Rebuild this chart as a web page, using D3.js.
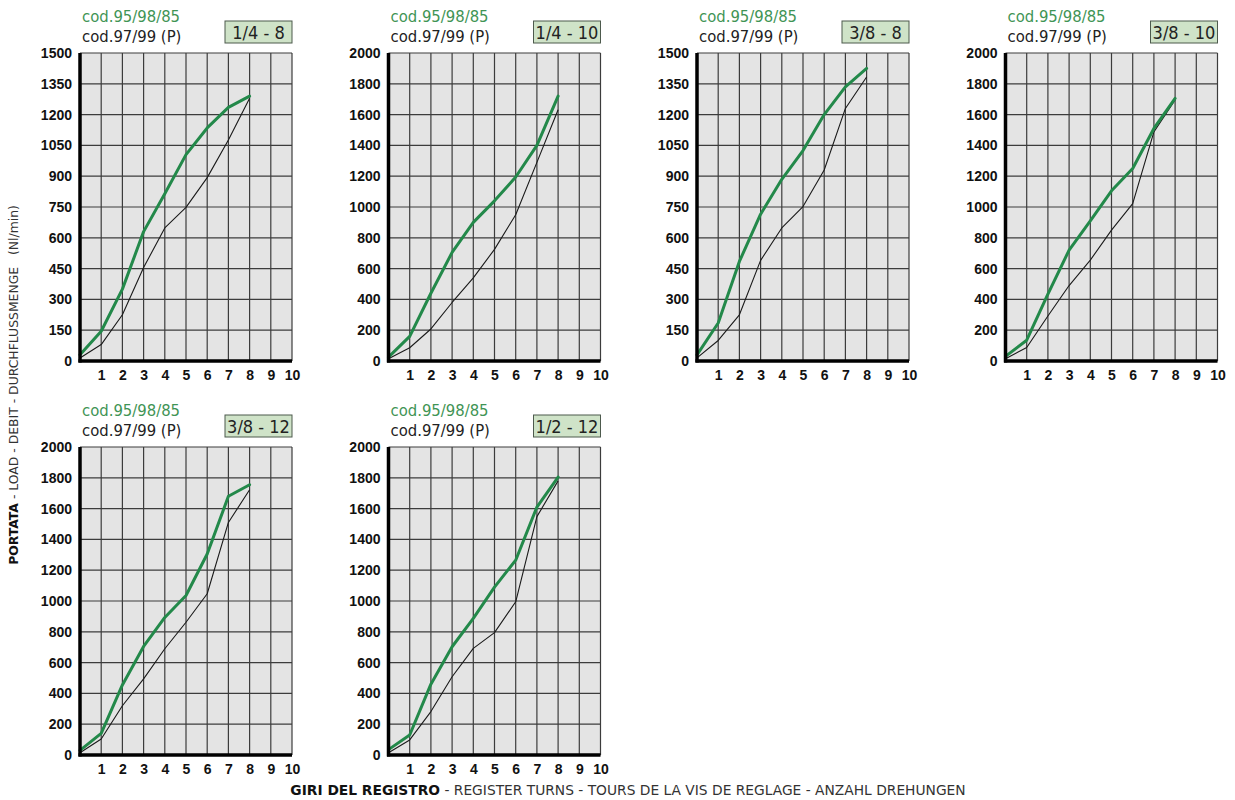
<!DOCTYPE html>
<html>
<head>
<meta charset="utf-8">
<script src="https://cdn.jsdelivr.net/npm/d3@7"></script>
<style>
  html, body { margin: 0; padding: 0; background: #ffffff; }
  svg { display: block; }
</style>
</head>
<body>
<svg id="chart" width="1235" height="800"></svg>
<script>
// Flow curves per valve size: register turns vs. flow (Nl/min)
const sizes = ["1/4 - 8", "1/4 - 10", "3/8 - 8", "3/8 - 10", "3/8 - 12", "1/2 - 12"];
const yMaxima = [1500, 2000, 1500, 2000, 2000, 2000];
const turns = [0, 1, 2, 3, 4, 5, 6, 7, 8];

// cod.95/98/85 (green curves)
const green_14_8  = [30, 145, 350, 630, 815, 1005, 1135, 1235, 1290];
const green_14_10 = [25, 160, 440, 705, 900, 1040, 1195, 1400, 1720];
const green_38_8  = [30, 185, 485, 715, 885, 1025, 1200, 1335, 1425];
const green_38_10 = [30, 135, 435, 720, 910, 1105, 1250, 1510, 1705];
const green_38_12 = [30, 140, 455, 705, 893, 1036, 1305, 1680, 1755];
const green_12_12 = [35, 130, 460, 703, 887, 1090, 1265, 1610, 1805];

// cod.97/99 (P) (black curves)
const black_14_8  = [15, 80, 225, 455, 648, 748, 893, 1076, 1280];
const black_14_10 = [15, 86, 208, 380, 540, 725, 950, 1290, 1632];
const black_38_8  = [15, 100, 225, 490, 648, 752, 930, 1230, 1383];
const black_38_10 = [15, 88, 292, 490, 655, 850, 1022, 1488, 1695];
const black_38_12 = [15, 104, 320, 494, 690, 862, 1047, 1510, 1722];
const black_12_12 = [15, 98, 282, 508, 692, 795, 995, 1548, 1780];

const greenSeries = [green_14_8, green_14_10, green_38_8, green_38_10, green_38_12, green_12_12];
const blackSeries = [black_14_8, black_14_10, black_38_8, black_38_10, black_38_12, black_12_12];

const yTicks1500 = [0, 150, 300, 450, 600, 750, 900, 1050, 1200, 1350, 1500];
const yTicks2000 = [0, 200, 400, 600, 800, 1000, 1200, 1400, 1600, 1800, 2000];
const xTickLabels = [1, 2, 3, 4, 5, 6, 7, 8, 9, 10];
const xGrid = [0, 1, 2, 3, 4, 5, 6, 7, 8, 9, 10];

const legendGreen = "cod.95/98/85";
const legendBlack = "cod.97/99 (P)";

const svg = d3.select("#chart");

const plotW = 212, plotH = 308;
const colStep = 308.5, rowStep = 394;
const originX = 80, originY = 53;

const tickFont = "'Liberation Sans', Arial, sans-serif";
const textFont = "'DejaVu Sans Condensed', 'DejaVu Sans', Verdana, sans-serif";

sizes.forEach((size, i) => {
  const col = i % 4, row = Math.floor(i / 4);
  const x0 = originX + col * colStep;
  const y0 = originY + row * rowStep;
  const yMax = yMaxima[i];
  const yTicks = yMax === 1500 ? yTicks1500 : yTicks2000;

  const x = d3.scaleLinear().domain([0, 10]).range([0, plotW]);
  const y = d3.scaleLinear().domain([0, yMax]).range([plotH, 0]);

  const g = svg.append("g").attr("transform", `translate(${x0},${y0})`);

  // plot background
  g.append("rect")
    .attr("x", 0).attr("y", 0)
    .attr("width", plotW).attr("height", plotH)
    .attr("fill", "#e4e4e4");

  // grid
  g.append("g").selectAll("line").data(yTicks).join("line")
    .attr("x1", 0).attr("x2", plotW)
    .attr("y1", d => y(d)).attr("y2", d => y(d))
    .attr("stroke", "#3c3c3c").attr("stroke-width", 1.2);
  g.append("g").selectAll("line").data(xGrid).join("line")
    .attr("x1", d => x(d)).attr("x2", d => x(d))
    .attr("y1", 0).attr("y2", plotH)
    .attr("stroke", "#3c3c3c").attr("stroke-width", 1.2);

  // y axis labels
  const yAxis = d3.axisLeft(y).tickValues(yTicks).tickFormat(d3.format("d"))
    .tickSize(0).tickPadding(8);
  const ya = g.append("g").call(yAxis);
  ya.select(".domain").remove();
  ya.selectAll("text")
    .attr("font-family", tickFont)
    .attr("font-weight", "bold")
    .attr("font-size", "14px")
    .attr("fill", "#111");

  // x axis labels
  const xAxis = d3.axisBottom(x).tickValues(xTickLabels).tickFormat(d3.format("d"))
    .tickSize(0).tickPadding(9);
  const xa = g.append("g").attr("transform", `translate(0,${plotH})`).call(xAxis);
  xa.select(".domain").remove();
  xa.selectAll("text")
    .attr("font-family", tickFont)
    .attr("font-weight", "bold")
    .attr("font-size", "14px")
    .attr("fill", "#111");

  // curves
  const line = d3.line().x((d, k) => x(turns[k])).y(d => y(d));
  g.append("path").datum(blackSeries[i])
    .attr("d", line).attr("fill", "none")
    .attr("stroke", "#1a1a1a").attr("stroke-width", 1.1)
    .attr("stroke-linejoin", "round");
  g.append("path").datum(greenSeries[i])
    .attr("d", line).attr("fill", "none")
    .attr("stroke", "#23894a").attr("stroke-width", 3)
    .attr("stroke-linejoin", "round").attr("stroke-linecap", "round");

  // thick axes
  g.append("line").attr("x1", 0).attr("x2", 0).attr("y1", 0).attr("y2", plotH + 1.5)
    .attr("stroke", "#000").attr("stroke-width", 3.5);
  g.append("line").attr("x1", -1.5).attr("x2", plotW).attr("y1", plotH).attr("y2", plotH)
    .attr("stroke", "#000").attr("stroke-width", 3.5);

  // legend
  g.append("text").attr("x", 2).attr("y", -31)
    .attr("font-family", textFont).attr("font-size", "16.5px")
    .attr("font-stretch", "condensed")
    .attr("fill", "#3f9455").text(legendGreen);
  g.append("text").attr("x", 2).attr("y", -11)
    .attr("font-family", textFont).attr("font-size", "16.5px")
    .attr("font-stretch", "condensed")
    .attr("fill", "#222").text(legendBlack);

  // size tag
  const tagW = 67, tagH = 22;
  g.append("rect").attr("x", plotW - tagW).attr("y", -32)
    .attr("width", tagW).attr("height", tagH)
    .attr("fill", "#cfe3c8").attr("stroke", "#4d5a4d").attr("stroke-width", 1);
  g.append("text").attr("x", plotW - tagW / 2).attr("y", -14.5)
    .attr("text-anchor", "middle")
    .attr("font-family", textFont).attr("font-size", "18px")
    .attr("font-stretch", "condensed")
    .attr("fill", "#222").text(size);
});

// axis titles
const yTitle = svg.append("text")
  .attr("transform", "translate(18,385) rotate(-90)")
  .attr("text-anchor", "middle")
  .attr("font-family", "'DejaVu Sans', Verdana, sans-serif")
  .attr("font-size", "12.4px")
  .attr("fill", "#333");
yTitle.append("tspan").attr("font-weight", "bold").attr("fill", "#111").text("PORTATA");
yTitle.append("tspan").text(" - LOAD - DEBIT - DURCHFLUSSMENGE \u00a0 (Nl/min)");

const xTitle = svg.append("text")
  .attr("x", 628).attr("y", 795)
  .attr("text-anchor", "middle")
  .attr("font-family", "'DejaVu Sans', Verdana, sans-serif")
  .attr("font-size", "13.8px")
  .attr("fill", "#333");
xTitle.append("tspan").attr("font-weight", "bold").attr("fill", "#111").text("GIRI DEL REGISTRO");
xTitle.append("tspan").text(" - REGISTER TURNS - TOURS DE LA VIS DE REGLAGE - ANZAHL DREHUNGEN");
</script>
</body>
</html>
